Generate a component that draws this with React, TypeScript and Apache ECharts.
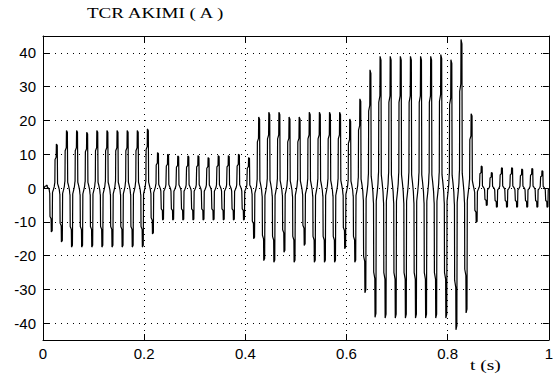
import React, { useEffect, useRef } from "react";
import * as echarts from "echarts";

// Peak current of each positive half-cycle pulse, one per 20 ms cycle
const POS_PEAKS = [
  0.8, 13, 17, 17, 16.5, 17, 17, 17, 17, 17, 17.5,
  10.5, 10, 9.5, 9.5, 9.6, 9, 9.6, 9.6, 10, 9,
  21, 22.4, 22.4, 21, 21, 22.4, 22.4, 22.4, 22.4, 20.4,
  26.4, 35, 39, 39, 39, 39, 39, 39, 39.5, 38,
  44, 22, 6.5, 4.6, 6, 6, 5.6, 5.8, 5.1,
];
// Peak current of each negative half-cycle pulse
const NEG_PEAKS = [
  -13, -16, -17.5, -17.5, -17.5, -17.5, -17.5, -17.5, -17.5, -17.5,
  -13.6, -9.5, -9.5, -9.5, -9.5, -9.5, -9.5, -9.5, -9.5, -9.5,
  -15, -21.5, -22, -19, -22, -17, -22, -22, -22, -18,
  -22, -31, -38.3, -38.5, -38.5, -38.5, -38.5, -38.5, -38.5, -38.5,
  -42, -37, -10.2, -5.2, -5.7, -5.7, -5.7, -5.7, -5.7, -5.7,
];
const PERIOD = 0.02;
const POS_PHASE = 0.007;
const NEG_PHASE = 0.017;
// shape of one pulse around its peak (time offset in s, fraction of peak)
const PULSE_OFFSETS = [-0.0048, -0.004, -0.0036, -0.0032, -0.001, -0.0006, 0.0012, 0.0018, 0.0035];
const PULSE_SHAPE = [0.03, 0.1, 0.12, 0.65, 0.7, 1, 0.97, 0.1, 0.04];

const X_LABELS = ["0", "0.2", "0.4", "0.6", "0.8", "1"];

function buildData(): [number, number][] {
  const pts: [number, number][] = [[0, 0]];
  for (let k = 0; k < POS_PEAKS.length; k++) {
    const tp = POS_PHASE + k * PERIOD;
    PULSE_OFFSETS.forEach((o, i) => pts.push([tp + o, POS_PEAKS[k] * PULSE_SHAPE[i]]));
    const tn = NEG_PHASE + k * PERIOD;
    PULSE_OFFSETS.forEach((o, i) => pts.push([tn + o, NEG_PEAKS[k] * PULSE_SHAPE[i]]));
  }
  return pts;
}

export default function App() {
  const ref = useRef<HTMLDivElement>(null);
  useEffect(() => {
    if (!ref.current) return;
    const chart = echarts.init(ref.current, null, { renderer: "svg" });
    const tickFont = { color: "#000", fontSize: 15, fontFamily: "Liberation Sans, Arial, sans-serif" };
    const dotted = { show: true, lineStyle: { color: "#000", width: 1, type: [1, 5] as any } };
    const axisLine = { show: true, onZero: false, lineStyle: { color: "#000", width: 1 } };
    const axisTick = { show: true, inside: true, length: 6, lineStyle: { color: "#000", width: 1 } };
    chart.setOption({
      animation: false,
      backgroundColor: "#fff",
      grid: { left: 43, right: 3, top: 36, bottom: 37, containLabel: false },
      xAxis: [
        {
          type: "value",
          min: 0,
          max: 1,
          interval: 0.2,
          position: "bottom",
          axisLine,
          axisTick,
          axisLabel: {
            ...tickFont,
            margin: 6,
            formatter: (v: number) => X_LABELS[Math.round(v / 0.2)] ?? "",
          },
          splitLine: dotted,
        },
        {
          type: "value",
          min: 0,
          max: 1,
          interval: 0.2,
          position: "top",
          axisLine,
          axisTick,
          axisLabel: { show: false },
          splitLine: { show: false },
        },
      ],
      yAxis: [
        {
          type: "value",
          min: -45,
          max: 45,
          splitNumber: 9,
          position: "left",
          axisLine,
          axisTick,
          axisLabel: { ...tickFont, margin: 7, showMinLabel: false, showMaxLabel: false },
          splitLine: dotted,
        },
        {
          type: "value",
          min: -45,
          max: 45,
          splitNumber: 9,
          position: "right",
          axisLine,
          axisTick,
          axisLabel: { show: false },
          splitLine: { show: false },
        },
      ],
      series: [
        {
          type: "line",
          xAxisIndex: 0,
          yAxisIndex: 0,
          data: buildData(),
          showSymbol: false,
          symbol: "none",
          lineStyle: { color: "#000", width: 1.2 },
          clip: true,
        },
      ],
      graphic: [
        {
          type: "text",
          x: 87,
          y: 6,
          scaleX: 1.27,
          style: {
            text: "TCR AKIMI ( A )",
            font: "15px 'Liberation Serif', 'Times New Roman', serif",
            fill: "#000",
            verticalAlign: "top",
          },
        },
        {
          type: "text",
          x: 470,
          y: 358,
          scaleX: 1.3,
          style: {
            text: "t (s)",
            font: "15px 'Liberation Serif', 'Times New Roman', serif",
            fill: "#000",
            verticalAlign: "top",
          },
        },
      ],
    });
    return () => chart.dispose();
  }, []);
  return <div ref={ref} style={{ width: 556, height: 377, position: "absolute", left: 0, top: 0 }} />;
}
